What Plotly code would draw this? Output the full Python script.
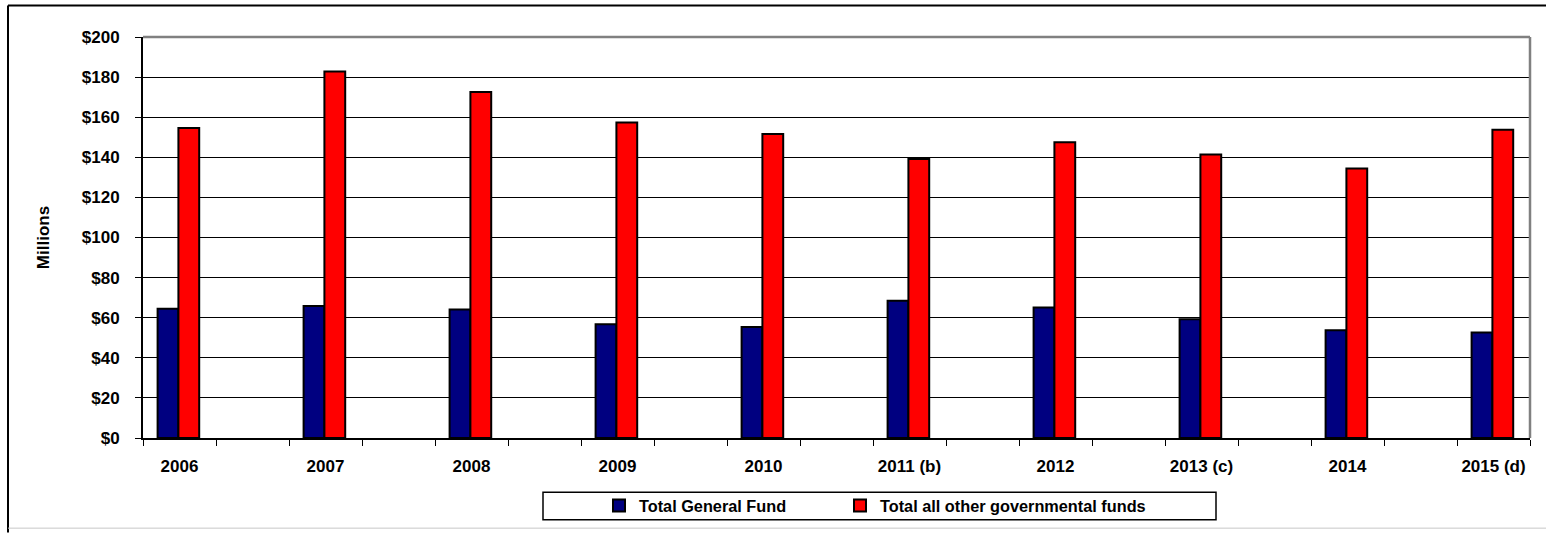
import plotly.graph_objects as go

years = ["2006", "2007", "2008", "2009", "2010", "2011 (b)", "2012", "2013 (c)", "2014", "2015 (d)"]
general_fund = [64.5, 65.8, 64.1, 56.7, 55.4, 68.5, 65.1, 59.2, 53.8, 52.6]
other_funds = [154.6, 182.8, 172.6, 157.4, 151.6, 139.1, 147.5, 141.4, 134.4, 153.8]
y_ticks = [0, 20, 40, 60, 80, 100, 120, 140, 160, 180, 200]
y_tick_text = ["$" + str(v) for v in y_ticks]

# each year occupies every other slot on the category axis
pos = [2 * i for i in range(len(years))]
bounds = [i - 0.5 for i in range(2 * len(years))]

W, H = 1546, 536
ML, MR, MT, MB = 143, 16, 37, 92
PW, PH = W - ML - MR, H - MT - MB


def px(x):
    return (x - ML) / PW


def py(y):
    return (H - MB - y) / PH


FONT = "Liberation Sans, Arial, sans-serif"

fig = go.Figure()
fig.add_trace(go.Bar(
    x=pos, y=general_fund, name="Total General Fund",
    marker=dict(color="#000080", line=dict(color="black", width=2)),
    width=0.285, offset=-0.30, legend="legend",
))
fig.add_trace(go.Bar(
    x=pos, y=other_funds, name="Total all other governmental funds",
    marker=dict(color="#FF0000", line=dict(color="black", width=2)),
    width=0.285, offset=-0.015, legend="legend2",
))

shapes = [
    # outer chart frame
    dict(type="line", xref="paper", yref="paper", x0=px(8), x1=px(1560), y0=py(5), y1=py(5),
         line=dict(color="black", width=2)),
    dict(type="line", xref="paper", yref="paper", x0=px(8), x1=px(8), y0=py(5), y1=py(540),
         line=dict(color="black", width=2)),
    dict(type="line", xref="paper", yref="paper", x0=px(8), x1=px(1560), y0=py(535.5), y1=py(535.5),
         line=dict(color="#c8c8c8", width=1)),
    # plot area top / right border (gray)
    dict(type="line", xref="paper", yref="paper", x0=0, x1=1, y0=1, y1=1,
         line=dict(color="#808080", width=2.5), layer="above"),
    dict(type="line", xref="paper", yref="paper", x0=1, x1=1, y0=0, y1=1,
         line=dict(color="#808080", width=2.5), layer="above"),
    # legend box
    dict(type="rect", xref="paper", yref="paper", x0=px(543), x1=px(1216), y0=py(499), y1=py(527),
         line=dict(color="black", width=1.5), fillcolor="white", layer="below"),
]

legend_common = dict(
    orientation="h", xanchor="left", y=py(513), yanchor="middle",
    font=dict(family=FONT, size=16.3, color="black", weight="bold"),
    bgcolor="rgba(0,0,0,0)", borderwidth=0,
)

fig.update_layout(
    width=W, height=H,
    margin=dict(l=ML, r=MR, t=MT, b=MB),
    paper_bgcolor="white", plot_bgcolor="white",
    barmode="overlay",
    font=dict(family=FONT, color="black", size=17, weight="bold"),
    showlegend=True,
    legend=dict(x=px(599), **legend_common),
    legend2=dict(x=px(840), **legend_common),
    shapes=shapes,
    xaxis=dict(
        range=[-0.5, 2 * len(years) - 1.5],
        tickmode="array", tickvals=pos, ticktext=years,
        ticks="", showgrid=False, zeroline=False,
        showline=True, linecolor="black", linewidth=2,
        tickfont=dict(family=FONT, size=17, color="black", weight="bold"),
        ticklabelstandoff=12,
        minor=dict(tickmode="array", tickvals=bounds, ticks="outside", ticklen=6,
                   tickwidth=1, tickcolor="black", showgrid=False),
    ),
    yaxis=dict(
        range=[0, 200], tickmode="array", tickvals=y_ticks, ticktext=y_tick_text,
        ticks="outside", ticklen=6, tickwidth=1, tickcolor="black",
        showgrid=True, gridcolor="black", gridwidth=1,
        zeroline=False, showline=True, linecolor="black", linewidth=2,
        tickfont=dict(family=FONT, size=17, color="black", weight="bold"),
        ticklabelstandoff=12,
        title=dict(text="Millions", font=dict(family=FONT, size=17, color="black", weight="bold"),
                   standoff=28),
    ),
)

fig.write_html(
    "out.html",
    config={"displayModeBar": False},
    post_script="document.body.style.margin='0';document.body.style.overflow='hidden';",
)
